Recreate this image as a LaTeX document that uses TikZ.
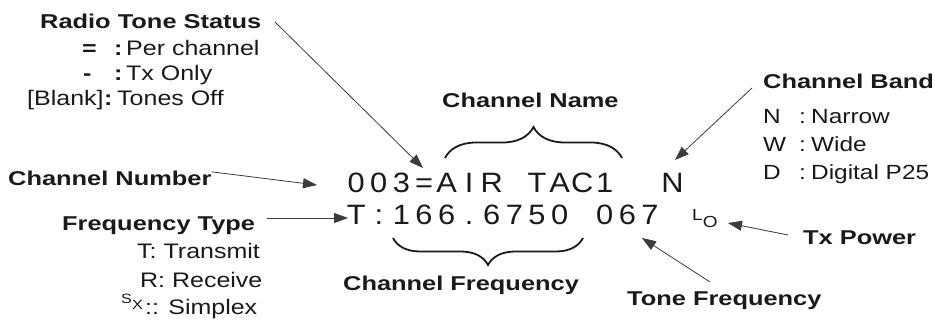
\documentclass[tikz,border=0pt]{standalone}
\usepackage{fontspec}
\usepackage{graphicx}
\setmainfont{Liberation Sans}
\usetikzlibrary{arrows.meta,decorations.pathreplacing}
\newcommand\rs[1]{\scalebox{1.19}[1]{#1}}
\newcommand\bs[1]{\scalebox{1.27}[1]{#1}}
\newcommand\cb[1]{\makebox[22.6pt][c]{\scalebox{1.1}[1]{#1}}}
\definecolor{ink}{HTML}{1A1A1A}
\begin{document}
\begin{tikzpicture}[x=1pt,y=-1pt,
  lbl/.style={inner sep=0pt,text=ink,font=\bfseries\fontsize{20}{22}\selectfont,anchor=base west},
  txt/.style={inner sep=0pt,text=ink,font=\fontsize{21}{24}\selectfont,anchor=base west},
  txr/.style={inner sep=0pt,text=ink,font=\fontsize{20.5}{24}\selectfont,anchor=base west},
  sml/.style={inner sep=0pt,text=ink,font=\fontsize{13.5}{16}\selectfont,anchor=base west},
  lcd/.style={inner sep=0pt,text=ink,font=\fontsize{28}{32}\selectfont,anchor=base west},
  arr/.style={-{Triangle[length=14pt,width=10pt]},line width=0.8pt,draw=ink!85},
  brc/.style={decorate,decoration={brace,amplitude=#1},line width=1.8pt,draw=ink}]
\useasboundingbox (0,0) rectangle (935,325);
\fill[white] (0,0) rectangle (935,325);

% display lines
\node[lcd] (l1) at (344.7,192) {\cb0\cb0\cb3\cb=\cb A\cb I\cb R\cb{}\cb T\cb A\cb C\cb1\cb{}\cb{}\cb N};
\node[lcd] (l2) at (344.7,224) {\cb T\cb:\cb1\cb6\cb6\cb.\cb6\cb7\cb5\cb0\cb{}\cb0\cb6\cb7};
\node[sml,font=\fontsize{16}{18}\selectfont] (lo) at (692,220) {\rs{L\raisebox{-7pt}{O}}};

% Radio tone status block
\node[lbl] (rts) at (40,28) {\bs{Radio Tone Status}};
\node[txt] (eqs) at (82,55) {\rs{\bfseries =}};
\node[txt] (eqc) at (114,55) {\rs{\bfseries :}};
\node[txt] (eqt) at (126,55) {\rs{Per channel}};
\node[txt] (mis) at (83,80) {\rs{\bfseries -}};
\node[txt] (mic) at (114,80) {\rs{\bfseries :}};
\node[txt] (mit) at (126,80) {\rs{Tx Only}};
\node[txt] (blk) at (27,105) {\rs{[Blank]}};
\node[txt] (blc) at (104,105) {\rs{\bfseries :}};
\node[txt] (blt) at (117,105) {\rs{Tones Off}};

% Channel name
\node[lbl] (cname) at (442,107) {\bs{Channel Name}};
\coordinate (bn1) at (445,158);
\coordinate (bn2) at (622,158);
\draw[brc=31pt] (bn1) -- (bn2);

% Channel number
\node[lbl] (cnum) at (8,185) {\bs{Channel Number}};
% Frequency type
\node[lbl] (ftype) at (62,230) {\bs{Frequency Type}};
\node[txt] (ft1) at (137,258) {\rs{T: Transmit}};
\node[txt] (ft2) at (140,287) {\rs{R: Receive}};
\node[sml] (ft3s) at (121,303) {\rs{S}};
\node[sml] (ft3x) at (132,309) {\rs{X}};
\node[txt] (ft3) at (145,314) {\rs{:: Simplex}};

% Channel frequency
\coordinate (bf1) at (583,238);
\coordinate (bf2) at (393,238);
\draw[brc=27pt] (bf1) -- (bf2);
\node[lbl] (cfreq) at (343,290) {\bs{Channel Frequency}};

% Tone frequency
\node[lbl] (tfreq) at (627,305) {\bs{Tone Frequency}};
% Tx power
\node[lbl] (txp) at (803,244) {\bs{Tx Power}};
% Channel band
\node[lbl] (cband) at (763,88) {\bs{Channel Band}};
\node[txr] (cb1) at (763,123) {\rs{N}};
\node[txr] (cb1c) at (799,123) {\rs{:}};
\node[txr] (cb1t) at (811,123) {\rs{Narrow}};
\node[txr] (cb2) at (763,151) {\rs{W}};
\node[txr] (cb2c) at (799,151) {\rs{:}};
\node[txr] (cb2t) at (811,151) {\rs{Wide}};
\node[txr] (cb3) at (763,179) {\rs{D}};
\node[txr] (cb3c) at (799,179) {\rs{:}};
\node[txr] (cb3t) at (811,179) {\rs{Digital P25}};

% arrow end points
\coordinate (a1s) at (275,22);
\coordinate (a1e) at (423,168);
\coordinate (a2e) at (317,185);
\coordinate (a3s) at (267,218);
\coordinate (a3e) at (348,218);
\coordinate (a4s) at (752,88);
\coordinate (a4e) at (675,160);
\coordinate (a5s) at (788,235);
\coordinate (a5e) at (728,223);
\coordinate (a6s) at (710,282);
\coordinate (a6e) at (642,238);

\draw[arr] (a1s) -- (a1e);
\draw[arr] (cnum.east) ++(0,-6) coordinate (a2s) (a2s) -- (a2e);
\draw[arr] (a3s) -- (a3e);
\draw[arr] (a4s) -- (a4e);
\draw[arr] (a5s) -- (a5e);
\draw[arr] (a6s) -- (a6e);
\end{tikzpicture}
\end{document}
